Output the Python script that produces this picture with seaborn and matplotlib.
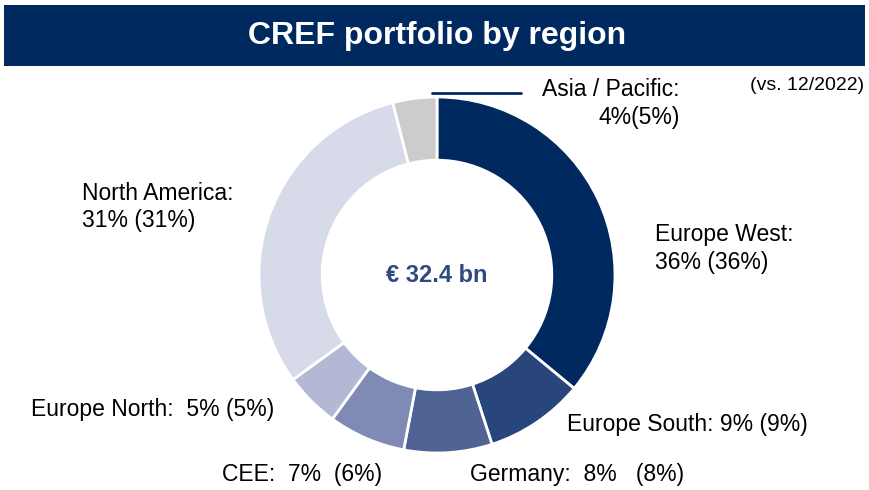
import matplotlib
matplotlib.use("Agg")
import matplotlib.pyplot as plt
from matplotlib.patches import Rectangle
import seaborn as sns

regions = ["Europe West", "Europe South", "Germany", "CEE", "Europe North", "North America", "Asia / Pacific"]
shares = [36, 9, 8, 7, 5, 31, 4]
prior = [36, 9, 8, 6, 5, 31, 5]
colors = ["#002960", "#28457c", "#4f6494", "#7f8bb5", "#b3b9d4", "#d6dae9", "#cccccc"]
total = "€ 32.4 bn"

sns.set_style("white")
plt.rcParams["font.family"] = ["Liberation Sans", "DejaVu Sans"]
plt.rcParams["text.color"] = "black"

fig = plt.figure(figsize=(8.69, 4.9), dpi=100)

# overlay in pixel coordinates for header and labels
bg = fig.add_axes([0, 0, 1, 1])
bg.set_xlim(0, 869)
bg.set_ylim(490, 0)
bg.axis("off")

bg.add_patch(Rectangle((4, 5), 861, 61, color="#002960", lw=0))
bg.text(437, 36, "CREF portfolio by region", color="white", fontsize=23,
        fontweight="bold", ha="center", va="center")

# donut
ax = fig.add_axes([259 / 869, 37 / 490, 356 / 869, 356 / 490])
ax.pie(shares, colors=colors, startangle=90, counterclock=False,
       wedgeprops=dict(width=0.355, edgecolor="white", linewidth=2))
ax.set_xlim(-1, 1)
ax.set_ylim(-1, 1)
ax.set_aspect("equal")
ax.axis("off")
ax.text(0, 0, total, color="#2e4a80", fontsize=17, fontweight="bold",
        ha="center", va="center")

fs = 16.5
d = dict(zip(regions, zip(shares, prior)))

bg.plot([432, 521], [93, 93], color="#002960", lw=2)
bg.text(680, 90, "Asia / Pacific:", fontsize=fs, ha="right", va="center")
s, p = d["Asia / Pacific"]
bg.text(680, 117, f"{s}%({p}%)", fontsize=fs, ha="right", va="center")
bg.text(864, 86, "(vs. 12/2022)", fontsize=14, ha="right", va="center")

s, p = d["North America"]
bg.text(82, 193, "North America:", fontsize=fs, va="center")
bg.text(82, 220, f"{s}% ({p}%)", fontsize=fs, va="center")

s, p = d["Europe West"]
bg.text(655, 234, "Europe West:", fontsize=fs, va="center")
bg.text(655, 262, f"{s}% ({p}%)", fontsize=fs, va="center")

s, p = d["Europe South"]
bg.text(567, 424, f"Europe South: {s}% ({p}%)", fontsize=fs, va="center")

s, p = d["Germany"]
bg.text(470, 474, f"Germany:  {s}%   ({p}%)", fontsize=fs, va="center")

s, p = d["CEE"]
bg.text(222, 474, f"CEE:  {s}%  ({p}%)", fontsize=fs, va="center")

s, p = d["Europe North"]
bg.text(31, 409, f"Europe North:  {s}% ({p}%)", fontsize=fs, va="center")

fig.savefig("out.png", dpi=100)
